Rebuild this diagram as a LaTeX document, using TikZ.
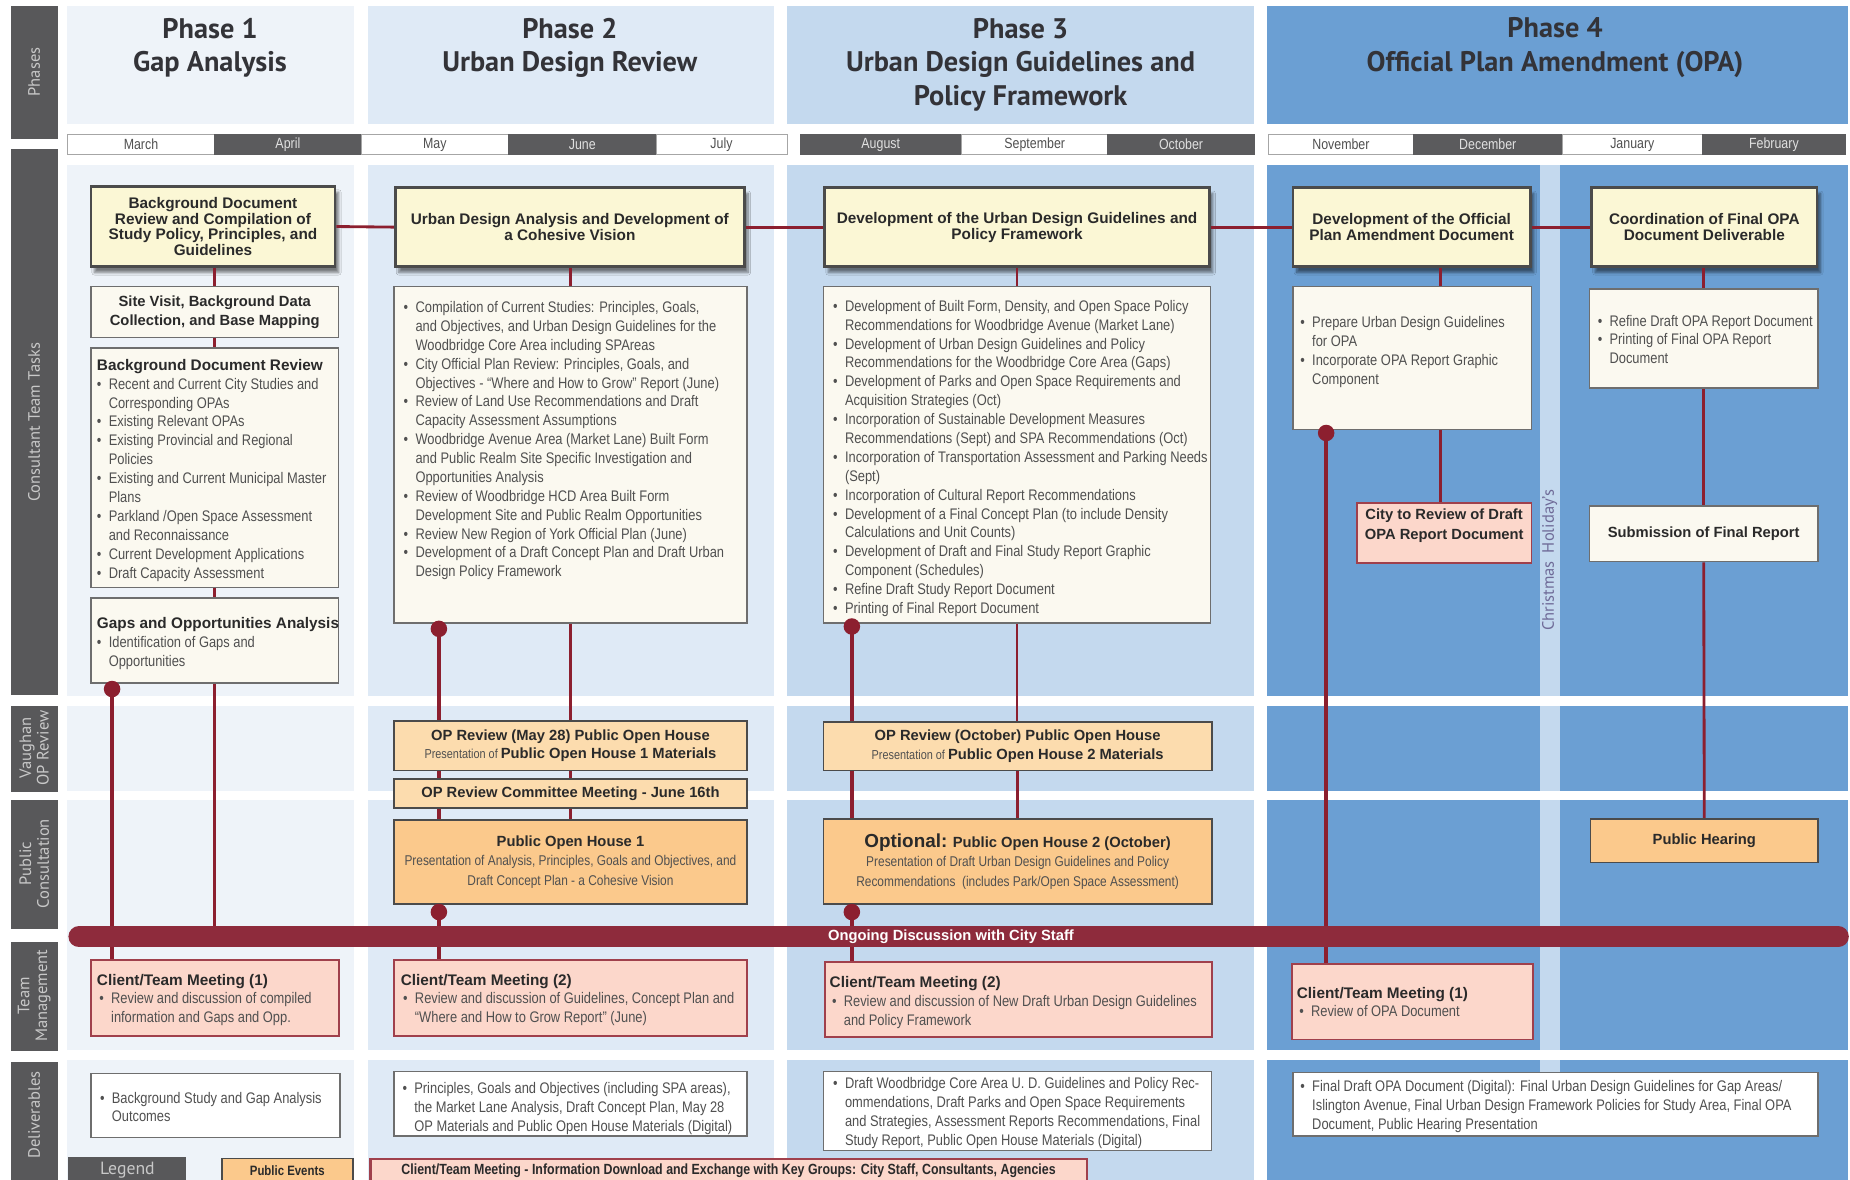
\documentclass[tikz,border=0pt]{standalone}
\usepackage{fontspec}
\setmainfont{Liberation Sans}
\newfontfamily\nar[FakeStretch=0.84]{Liberation Sans}
\newfontfamily\hdf{PT Sans}
\usetikzlibrary{shadows.blur}
\definecolor{labgray}{HTML}{58585A}
\definecolor{labtext}{HTML}{C8C8C8}
\definecolor{pone}{HTML}{EEF3F9}
\definecolor{ptwo}{HTML}{DFEAF6}
\definecolor{pthree}{HTML}{C4D9EE}
\definecolor{pfour}{HTML}{6B9FD3}
\definecolor{cred}{HTML}{8C1F2F}
\definecolor{barred}{HTML}{8E2B3C}
\definecolor{topfill}{HTML}{FBF7D5}
\definecolor{boxdraw}{HTML}{4B4B4B}
\definecolor{listfill}{HTML}{FBF9F0}
\definecolor{listdraw}{HTML}{6E6E6E}
\definecolor{orl}{HTML}{FCDCAE}
\definecolor{ord}{HTML}{FBC98C}
\definecolor{pinkf}{HTML}{FCD7CB}
\definecolor{pinkd}{HTML}{A0404C}
\definecolor{txtd}{HTML}{2A2A2A}
\definecolor{txtg}{HTML}{505050}
\definecolor{hdr}{HTML}{333338}
\definecolor{mdark}{HTML}{5B5B5D}
\definecolor{xmas}{HTML}{6F6B98}
\newcommand\mybox[7]{%
  \pgfmathsetmacro\bxw{#5-#3}\pgfmathsetmacro\bxh{#6-#4}%
  \pgfmathsetmacro\bxcx{(#3+#5)/2}\pgfmathsetmacro\bxcy{(#4+#6)/2}%
  \node[#2, minimum width=\bxw pt, minimum height=\bxh pt] (#1) at (\bxcx,\bxcy) {#7};}
\newcommand\bu{\makebox[10pt][l]{\textbullet}}
\newcommand\bi{\makebox[10pt][l]{}}
\newcommand\fs{\rule{0pt}{10pt}}
\newcommand\ttl[1]{{\normalfont\bfseries\fontsize{13}{16}\selectfont\color{txtd}#1}}
\newcommand\nsm[1]{{\mdseries\nar\fontsize{11}{15.5}\selectfont\color{txtg}#1}}
\newcommand\nmd[1]{{\mdseries\nar\fontsize{12}{16}\selectfont\color{txtg}#1}}
\begin{document}
\begin{tikzpicture}[x=1pt,y=-1pt,
  labtxt/.style={rotate=90, font=\hdf\fontsize{14}{15}\selectfont, text=labtext, align=center, inner sep=0},
  hdrtxt/.style={font=\hdf\bfseries\fontsize{24}{28.5}\selectfont, text=hdr, align=center, inner sep=0},
  mw/.style={fill=white, draw=gray!70, line width=0.7pt, font=\nar\fontsize{12.5}{13}\selectfont, text=txtg, inner sep=0},
  md/.style={fill=mdark, draw=mdark, line width=0.7pt, font=\nar\fontsize{12.5}{13}\selectfont, text=white!88!black, inner sep=0},
  topbox/.style={fill=topfill, draw=boxdraw, line width=2.2pt, blur shadow={shadow xshift=3pt, shadow yshift=-5pt, shadow blur steps=8, shadow opacity=50}, font=\bfseries\fontsize{13}{13.5}\selectfont, text=txtd, align=center, inner sep=0},
  listbox/.style={fill=listfill, draw=listdraw, line width=1.3pt, inner sep=0, font=\bfseries\fontsize{12.5}{16}\selectfont, text=txtd, align=center},
  orbox/.style={fill=orl, draw=boxdraw, line width=1.6pt, inner sep=0, font=\bfseries\fontsize{12.5}{15.5}\selectfont, text=txtd, align=center},
  ordbox/.style={orbox, fill=ord, font=\bfseries\fontsize{12.5}{16.5}\selectfont},
  pinkbox/.style={fill=pinkf, draw=pinkd, line width=1.6pt, inner sep=0},
  delbox/.style={fill=white, draw=listdraw, line width=1.3pt, inner sep=0},
  lst/.style={anchor=north west, inner sep=0, align=left, font=\nar\fontsize{13}{16}\selectfont, text=txtg},
  conn/.style={draw=cred, line width=2.4pt},
  lolli/.style={draw=cred, line width=3.2pt},
  dot/.style={circle, fill=cred, minimum size=14pt, inner sep=0},
]
\useasboundingbox (0,0) rectangle (1568,1000);
\fill[white] (0,0) rectangle (1568,1000);
% ---------- column bands ----------
\foreach \xa/\xb/\cc in {57/300/pone, 312/656/ptwo, 667/1063/pthree, 1074/1566/pfour}{
  \fill[\cc] (\xa,5) rectangle (\xb,105);
  \fill[\cc] (\xa,140) rectangle (\xb,590);
  \fill[\cc] (\xa,598) rectangle (\xb,670);
  \fill[\cc] (\xa,678) rectangle (\xb,890);
  \fill[\cc] (\xa,898) rectangle (\xb,1000);
}
% Christmas strip
\foreach \ya/\yb in {140/590, 598/670, 678/890, 898/912}{
  \fill[pthree] (1305,\ya) rectangle (1322,\yb);
}
\node[rotate=90, font=\hdf\fontsize{14}{15}\selectfont, text=xmas, inner sep=0] (xmas) at (1313.5,475) {Christmas\hspace{7pt}Holiday’s};
% ---------- left labels ----------
\fill[labgray] (9,5) rectangle (49,118);
\fill[labgray] (9,126) rectangle (49,589);
\fill[labgray] (9,598) rectangle (49,671);
\fill[labgray] (9,678) rectangle (49,787);
\fill[labgray] (9,798) rectangle (49,891);
\fill[labgray] (9,900) rectangle (49,1000);
\node[labtxt] (lphase) at (29,61) {Phases};
\node[labtxt] (lctt) at (29,358) {Consultant Team Tasks};
\node[labtxt] (lvop) at (29,634) {Vaughan\\OP Review};
\node[labtxt] (lpc) at (29,732) {Public\\Consultation};
\node[labtxt] (ltm) at (29,844) {Team\\Management};
\node[labtxt] (ldel) at (29,945) {Deliverables};
% ---------- phase headers ----------
\node[hdrtxt] (h1) at (178,40.5) {Phase 1\\Gap Analysis};
\node[hdrtxt] (h2) at (483,40.5) {Phase 2\\Urban Design Review};
\node[hdrtxt] (h3) at (865,54.8) {Phase 3\\Urban Design Guidelines and\\Policy Framework};
\node[hdrtxt] (h4) at (1318,40.5) {Phase 4\\Official Plan Amendment (OPA)};
% ---------- months ----------
\mybox{m1}{mw}{57}{114}{182}{131}{March}
\mybox{m2}{md}{182}{114}{306}{131}{April}
\mybox{m3}{mw}{306}{114}{431}{131}{May}
\mybox{m4}{md}{431}{114}{556}{131}{June}
\mybox{m5}{mw}{556}{114}{667}{131}{July}
\mybox{m6}{md}{678}{114}{815}{131}{August}
\mybox{m7}{mw}{815}{114}{939}{131}{September}
\mybox{m8}{md}{939}{114}{1063}{131}{October}
\mybox{m9}{mw}{1075}{114}{1198}{131}{November}
\mybox{m10}{md}{1198}{114}{1324}{131}{December}
\mybox{m11}{mw}{1324}{114}{1443}{131}{January}
\mybox{m12}{md}{1443}{114}{1564}{131}{February}
% ---------- phase 1 tasks ----------
\mybox{p1a}{topbox}{77}{158}{284}{226}{Background Document\\Review and Compilation of\\Study Policy, Principles, and\\Guidelines}
\mybox{p1b}{listbox}{77}{243}{287}{286}{Site Visit, Background Data\\Collection, and Base Mapping}
\mybox{p1c}{listbox}{77}{295}{287}{498}{}
\mybox{p1d}{listbox}{77}{507}{287}{579}{}
\node[lst] (p1ct) at (82,303.7) {\fs\ttl{Background Document Review}\\
\bu Recent and Current City Studies and\\
\bi Corresponding OPAs\\
\bu Existing Relevant OPAs\\
\bu Existing Provincial and Regional\\
\bi Policies\\
\bu Existing and Current Municipal Master\\
\bi Plans\\
\bu Parkland /Open Space Assessment\\
\bi and Reconnaissance\\
\bu Current Development Applications\\
\bu Draft Capacity Assessment};
\node[lst] (p1dt) at (82,522.7) {\fs\ttl{Gaps and Opportunities Analysis}\\
\bu Identification of Gaps and\\
\bi Opportunities};
% ---------- phase 2 tasks ----------
\mybox{p2a}{topbox}{335}{159}{631}{226}{Urban Design Analysis and Development of\\a Cohesive Vision}
\mybox{p2l}{listbox}{334}{243}{633}{528}{}
\node[lst] (p2lt) at (342,254.7) {\fs\bu Compilation of Current Studies: Principles, Goals,\\
\bi and Objectives, and Urban Design Guidelines for the\\
\bi Woodbridge Core Area including SPAreas\\
\bu City Official Plan Review: Principles, Goals, and\\
\bi Objectives - “Where and How to Grow” Report (June)\\
\bu Review of Land Use Recommendations and Draft\\
\bi Capacity Assessment Assumptions\\
\bu Woodbridge Avenue Area (Market Lane) Built Form\\
\bi and Public Realm Site Specific Investigation and\\
\bi Opportunities Analysis\\
\bu Review of Woodbridge HCD Area Built Form\\
\bi Development Site and Public Realm Opportunities\\
\bu Review New Region of York Official Plan (June)\\
\bu Development of a Draft Concept Plan and Draft Urban\\
\bi Design Policy Framework};
\mybox{opr1}{orbox}{334}{611}{633}{653}{OP Review (May 28) Public Open House\\\nsm{Presentation of }Public Open House 1 Materials}
\mybox{com1}{orbox}{334}{660}{633}{685}{OP Review Committee Meeting - June 16th}
\mybox{poh1}{ordbox}{334}{695}{633}{766}{Public Open House 1\\\nmd{Presentation of Analysis, Principles, Goals and Objectives, and}\\\nmd{Draft Concept Plan - a Cohesive Vision}}
% ---------- phase 3 tasks ----------
\mybox{p3a}{topbox}{699}{159}{1025}{226}{Development of the Urban Design Guidelines and\\Policy Framework}
\mybox{p3l}{listbox}{698}{243}{1026}{528}{}
\node[lst] (p3lt) at (706,253.7) {\fs\bu Development of Built Form, Density, and Open Space Policy\\
\bi Recommendations for Woodbridge Avenue (Market Lane)\\
\bu Development of Urban Design Guidelines and Policy\\
\bi Recommendations for the Woodbridge Core Area (Gaps)\\
\bu Development of Parks and Open Space Requirements and\\
\bi Acquisition Strategies (Oct)\\
\bu Incorporation of Sustainable Development Measures\\
\bi Recommendations (Sept) and SPA Recommendations (Oct)\\
\bu Incorporation of Transportation Assessment and Parking Needs\\
\bi (Sept)\\
\bu Incorporation of Cultural Report Recommendations\\
\bu Development of a Final Concept Plan (to include Density\\
\bi Calculations and Unit Counts)\\
\bu Development of Draft and Final Study Report Graphic\\
\bi Component (Schedules)\\
\bu Refine Draft Study Report Document\\
\bu Printing of Final Report Document};
\mybox{opr2}{orbox}{698}{612}{1027}{653}{OP Review (October) Public Open House\\\nsm{Presentation of }Public Open House 2 Materials}
\mybox{opt}{ordbox}{698}{694}{1027}{766}{{\fontsize{16}{16.5}\selectfont Optional:} Public Open House 2 (October)\\\nmd{Presentation of Draft Urban Design Guidelines and Policy}\\\nmd{Recommendations\ \ (includes Park/Open Space Assessment)}}
% ---------- phase 4 tasks ----------
\mybox{p4a}{topbox}{1096}{159}{1297}{226}{Development of the Official\\Plan Amendment Document}
\mybox{p4b}{topbox}{1349}{159}{1540}{226}{Coordination of Final OPA\\Document Deliverable}
\mybox{p4l1}{listbox}{1096}{243}{1298}{364}{}
\mybox{p4l2}{listbox}{1347}{245}{1541}{329}{}
\node[lst] (p4l1t) at (1102,267.7) {\fs\bu Prepare Urban Design Guidelines\\
\bi for OPA\\
\bu Incorporate OPA Report Graphic\\
\bi Component};
\node[lst] (p4l2t) at (1354,266.2) {\fs\bu Refine Draft OPA Report Document\\
\bu Printing of Final OPA Report\\
\bi Document};
\mybox{city}{pinkbox}{1150}{426}{1298}{477}{}
\node[font=\bfseries\fontsize{12.5}{16.5}\selectfont, text=txtd, align=center, inner sep=0] (citytxt) at (1224,445.5) {City to Review of Draft\\OPA Report Document};
\mybox{subm}{listbox}{1347}{429}{1541}{476}{Submission of Final Report}
\mybox{phear}{ordbox}{1348}{694}{1541}{731}{Public Hearing}
% ---------- team management ----------
\mybox{ctm1}{pinkbox}{77}{814}{287}{878}{}
\mybox{ctm2}{pinkbox}{334}{814}{633}{878}{}
\mybox{ctm3}{pinkbox}{699}{815}{1027}{879}{}
\mybox{ctm4}{pinkbox}{1095}{817}{1299}{881}{}
\node[lst] (ctm1t) at (82,824.7) {\fs\ttl{Client/Team Meeting (1)}\\
\hspace*{2pt}\bu Review and discussion of compiled\\
\hspace*{2pt}\bi information and Gaps and Opp.};
\node[lst] (ctm2t) at (339.5,824.7) {\fs\ttl{Client/Team Meeting (2)}\\
\hspace*{2pt}\bu Review and discussion of Guidelines, Concept Plan and\\
\hspace*{2pt}\bi “Where and How to Grow Report” (June)};
\node[lst] (ctm3t) at (703,826.7) {\fs\ttl{Client/Team Meeting (2)}\\
\hspace*{2pt}\bu Review and discussion of New Draft Urban Design Guidelines\\
\hspace*{2pt}\bi and Policy Framework};
\node[lst] (ctm4t) at (1099,835.7) {\fs\ttl{Client/Team Meeting (1)}\\
\hspace*{2pt}\bu Review of OPA Document};
% ---------- deliverables ----------
\mybox{dv1}{delbox}{77}{910}{288}{964}{}
\mybox{dv2}{delbox}{334}{908}{633}{963}{}
\mybox{dv3}{delbox}{698}{908}{1027}{975}{}
\mybox{dv4}{delbox}{1096}{909}{1541}{963}{}
\node[lst] (dv1t) at (84.6,924.7) {\fs\bu Background Study and Gap Analysis\\
\bi Outcomes};
\node[lst] (dv2t) at (341,916.7) {\fs\bu Principles, Goals and Objectives (including SPA areas),\\
\bi the Market Lane Analysis, Draft Concept Plan, May 28\\
\bi OP Materials and Public Open House Materials (Digital)};
\node[lst] (dv3t) at (706,912.7) {\fs\bu Draft Woodbridge Core Area U. D. Guidelines and Policy Rec-\\
\bi ommendations, Draft Parks and Open Space Requirements\\
\bi and Strategies, Assessment Reports Recommendations, Final\\
\bi Study Report, Public Open House Materials (Digital)};
\node[lst] (dv4t) at (1102,914.7) {\fs\bu Final Draft OPA Document (Digital): Final Urban Design Guidelines for Gap Areas/\\
\bi Islington Avenue, Final Urban Design Framework Policies for Study Area, Final OPA\\
\bi Document, Public Hearing Presentation};
% ---------- legend ----------
\mybox{lg}{fill=labgray, inner sep=0, font=\hdf\fontsize{15}{15}\selectfont, text=labtext}{58}{981}{158}{1003}{Legend}
\mybox{lpe}{fill=ord, draw=boxdraw, line width=1.3pt, inner sep=0, font=\nar\bfseries\fontsize{11.5}{12}\selectfont, text=txtd}{188}{982}{299}{1003}{Public Events}
\mybox{lct}{fill=pinkf, draw=pinkd, line width=1.8pt, inner sep=0, font=\nar\bfseries\fontsize{12.5}{13}\selectfont, text=txtd}{314}{982}{921}{1003}{Client/Team Meeting - Information Download and Exchange with Key Groups: City Staff, Consultants, Agencies}
% ---------- connectors ----------
\coordinate (bs) at (67,794);
\coordinate (be) at (1558,794);
\coordinate (c4x) at (1221,0);
\draw[conn] (p1a.east) -- (p2a.west);
\draw[conn] (p2a.east) -- (p3a.west);
\draw[conn] (p3a.east) -- (p4a.west);
\draw[conn] (p4a.east) -- (p4b.west);
\draw[conn] (p1b.north |- p1a.south) -- (p1b.north);
\draw[conn] (p1b.south) -- (p1c.north);
\draw[conn] (p1c.south) -- (p1d.north);
\draw[conn] (p1d.south) -- (p1d.south |- bs);
\draw[conn] (p2l.north |- p2a.south) -- (p2l.north);
\draw[conn] (p2l.south) -- (p2l.south |- opr1.north);
\draw[conn] (opr1.south) -- (com1.north);
\draw[conn] (com1.south) -- (poh1.north);
\draw[conn] (p3l.north |- p3a.south) -- (p3l.north);
\draw[conn] (p3l.south) -- (p3l.south |- opr2.north);
\draw[conn] (opr2.south) -- (opt.north);
\draw[conn] (p4a.south -| c4x) -- (p4l1.north -| c4x);
\draw[conn] (p4l1.south -| c4x) -- (city.north -| c4x);
\draw[conn] (p4l2.north |- p4b.south) -- (p4l2.north);
\draw[conn] (p4l2.south) -- (subm.north);
\draw[conn] (subm.south) -- (phear.north);
\node[dot] (d1) at (95,584) {};
\node[dot] (d2a) at (372,533) {};
\node[dot] (d2b) at (372,773) {};
\node[dot] (d3a) at (722,531) {};
\node[dot] (d3b) at (722,773) {};
\node[dot] (d4) at (1124,367) {};
\draw[lolli] (d1.center) -- (d1.center |- ctm1.north);
\draw[lolli] (d2a.center) -- (d2a.center |- opr1.north);
\draw[lolli] (opr1.south -| d2a) -- (com1.north -| d2a);
\draw[lolli] (com1.south -| d2a) -- (poh1.north -| d2a);
\draw[lolli] (d2b.center) -- (d2b.center |- ctm2.north);
\draw[lolli] (d3a.center) -- (d3a.center |- opr2.north);
\draw[lolli] (opr2.south -| d3a) -- (opt.north -| d3a);
\draw[lolli] (d3b.center) -- (d3b.center |- ctm3.north);
\draw[lolli] (d4.center) -- (d4.center |- ctm4.north);
% ---------- ongoing bar ----------
\draw[barred, line width=18pt, line cap=round] (bs) -- (be);
\node[font=\bfseries\fontsize{12.5}{13}\selectfont, text=white, inner sep=0] (ongo) at (806,794) {Ongoing Discussion with City Staff};
\end{tikzpicture}
\end{document}
